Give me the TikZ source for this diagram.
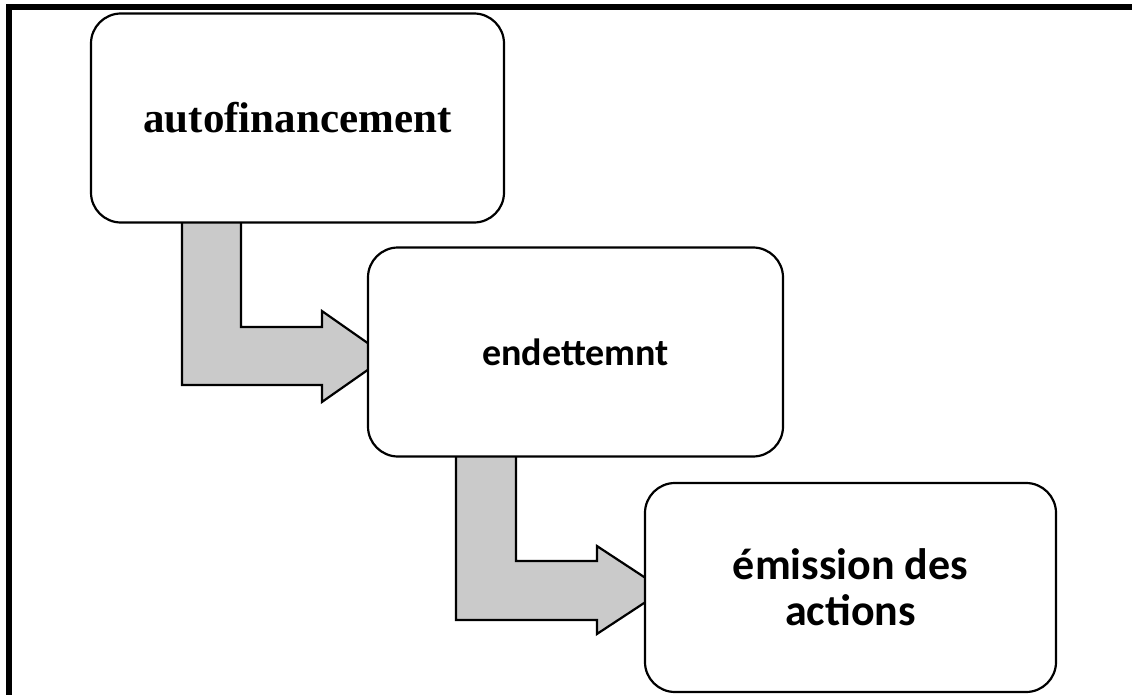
\documentclass[tikz,border=0pt]{standalone}
\usepackage{fontspec}
\usetikzlibrary{calc,backgrounds}
\newfontfamily\serifbold{Liberation Serif Bold}
\newfontfamily\carlitobold{Carlito Bold}
\definecolor{arrowgray}{RGB}{202,202,202}
\begin{document}
\begin{tikzpicture}[x=1pt,y=-1pt,
  stagebox/.style={draw=black, line width=2.2pt, rounded corners=30pt, fill=white,
    minimum width=#1, minimum height=209pt, inner sep=0pt, align=center},
  stagebox/.default=413pt,
  bentarrow/.style={draw=black, line width=2.2pt, fill=arrowgray, line join=miter}]
  \useasboundingbox (0,0) rectangle (1132,695);
  % outer frame: only the top and left sides are shown
  \draw[line width=6pt] (9,698) -- (9,7.5) -- (1135,7.5);

  % stage boxes
  \node[stagebox=413pt, font=\serifbold\fontsize{43}{50}\selectfont] (b1) at (297.5,118) {autofinancement};
  \node[stagebox=415pt, font=\carlitobold\fontsize{38}{46}\selectfont] (b2) at (575.5,352) {endettemnt};
  \node[stagebox=411pt, font=\carlitobold\fontsize{44}{46}\selectfont] (b3) at (850.5,587.5) {émission des\\actions};

  % bent arrows between the stages, behind the boxes
  \begin{pgfonlayer}{background}
    \draw[bentarrow] ($(b1.south west)+(92,-2)$) |- ($(b2.west)+(-45,33)$) -- ++(0,17)
       -- ($(b2.west)+(20,4.5)$) -- ($(b2.west)+(-45,-41)$) -- ++(0,16)
       -| ($(b1.south west)+(151,-2)$) -- cycle;
    \draw[bentarrow] ($(b2.south west)+(89,-2)$) |- ($(b3.west)+(-47,32.5)$) -- ++(0,14)
       -- ($(b3.west)+(20,2.5)$) -- ($(b3.west)+(-47,-41.5)$) -- ++(0,15)
       -| ($(b2.south west)+(149,-2)$) -- cycle;
  \end{pgfonlayer}
\end{tikzpicture}
\end{document}
